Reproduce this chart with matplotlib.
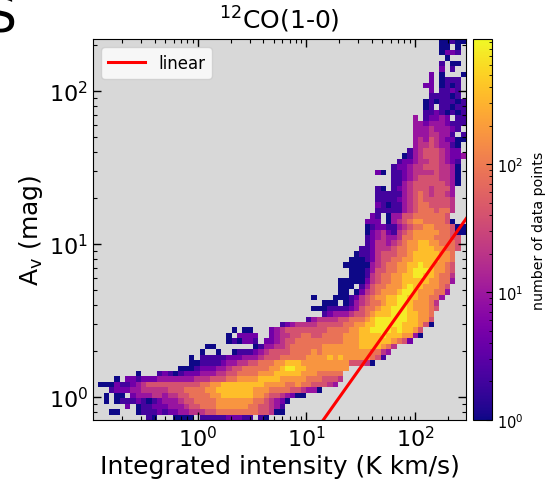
import numpy as np
import matplotlib
matplotlib.use("Agg")
import matplotlib.pyplot as plt
from matplotlib.colors import LogNorm

XLIM = (0.108, 295.0)
YLIM = (0.707, 219.0)
VMIN, VMAX = 1, 950
N_BINS = 70

# cell levels: start column and log-count digits
# (count = 10**(0.32*d)), top row first
ROW_STARTS = [65, 65, 65, 66, 65, 65, 63, 63, 62, 63,
              63, 62, 62, 62, 60, 60, 60, 60, 60, 60,
              59, 58, 57, 56, 53, 56, 56, 53, 53, 53,
              53, 53, 52, 51, 51, 51, 51, 51, 50, 49,
              48, 47, 48, 48, 46, 46, 46, 41, 43, 41,
              43, 40, 35, 26, 25, 25, 21, 20, 18, 18,
              16, 8, 4, 1, 3, 2, 2, 6, 3, 10]
ROW_LEVELS = [
    "00100", "00.0", "0221", "0", "1.00", "2.1", "2.0...0", "2.0111", "22.0101", "2.1121",
    "111101", "01011101", "01.11011", "11210101", "3.12232.11", "3323332111", "333433321.", "33344331.1", "3435432200", "344543310.",
    "1345554322", "013455543223", "122344554321", "1223445554430", "20.1123444454430", "1123455554430", "1134555555430", "10.123455545553", "111113456545543", "111123456555554",
    "210113456655554", "111113456665664", "21.033556666665", "222.0345677666650", "0122113456677666500", "0234214567777766500", "123433466777766655", "124434567788776665", "1124445667788877665", "0112455566788888776",
    "00012455667788888776", "000003456677889887765", "00013556677899987765", "00014566778899887664", "0000024566778888877663", "000.13566777898877765", "00.024567778998777663", "0...000124567788998877663", "000.013456678899877764", "000111123566788999877765",
    "123334556788899988776", "134444556667899999988775", "12344445555566778899999888750", "0.00...23455555555666677889999898875", "0.2222..23445566556666777888898887730", "010221.2234556666666667778888887652", "00.......013344566666677777778888764",
    "0..0..011123455556666767777777776643", "0.11111222333455566666777787877777651", "00111123344556667788877777777755540", "00012223345566666778998877777777",
    "0...12101222333445566667778888877766666", "0.22122233333334445556677778888777776665554", "000211234555555555566778888888877776676655543", "1222334444455566667788888887776666554330",
    "0.00.233344344556666778888887765543200", "0.011121012333455666677777776654320", "2.0112223334556667777776655431", "00...0111212233444556666666655400", "10...0000.1111122211.10",
]
LINE_X = [10.0, 300.0]
LINE_Y = [0.495, 14.85]
TITLE = "$^{12}$CO(1-0)"
XLABEL = "Integrated intensity (K km/s)"
YLABEL = "A$_{\\mathrm{v}}$ (mag)"
CBAR_LABEL = "number of data points"

grid = np.full((N_BINS, N_BINS), np.nan)
for r, (start, text) in enumerate(zip(ROW_STARTS, ROW_LEVELS)):
    for k, ch in enumerate(text):
        if ch != "." and start + k < N_BINS:
            grid[r, start + k] = 10 ** (0.32 * int(ch))

xedges = np.geomspace(XLIM[0], XLIM[1], N_BINS + 1)
yedges = np.geomspace(YLIM[1], YLIM[0], N_BINS + 1)

fig = plt.figure(figsize=(5.52, 4.81), dpi=100)
W, H = 552, 481
ax = fig.add_axes([93 / W, 1 - 421 / H, 373 / W, 381 / H])
cax = fig.add_axes([473 / W, 1 - 421 / H, 19 / W, 381 / H])
ax.set_facecolor("#d8d8d8")
mesh = ax.pcolormesh(xedges, yedges, np.ma.masked_invalid(grid), cmap="plasma",
                     norm=LogNorm(VMIN, VMAX))
ax.plot(LINE_X, LINE_Y, color="red", lw=2.2, label="linear")
ax.set_xscale("log")
ax.set_yscale("log")
ax.set_xlim(XLIM)
ax.set_ylim(YLIM)
ax.tick_params(which="both", direction="in", top=True, right=True, labelsize=16)
ax.tick_params(which="major", length=5.5, width=1)
ax.tick_params(which="minor", length=3, width=0.8)
ax.set_title(TITLE, fontsize=18, pad=8)
ax.set_xlabel(XLABEL, fontsize=18, labelpad=3)
ax.set_ylabel(YLABEL, fontsize=18, labelpad=3)
ax.legend(loc="upper left", fontsize=12, handlelength=2.2)

cb = fig.colorbar(mesh, cax=cax)
cb.ax.tick_params(which="both", direction="in", labelsize=10.5)
cb.ax.tick_params(which="major", length=4)
cb.ax.tick_params(which="minor", length=2.5)
cb.set_label(CBAR_LABEL, fontsize=10.2, labelpad=6)

fig.text(17 / W, 1 - 32.5 / H, "S", fontsize=35, ha="right", va="baseline", color="black")
fig.savefig("out.png", dpi=100)
